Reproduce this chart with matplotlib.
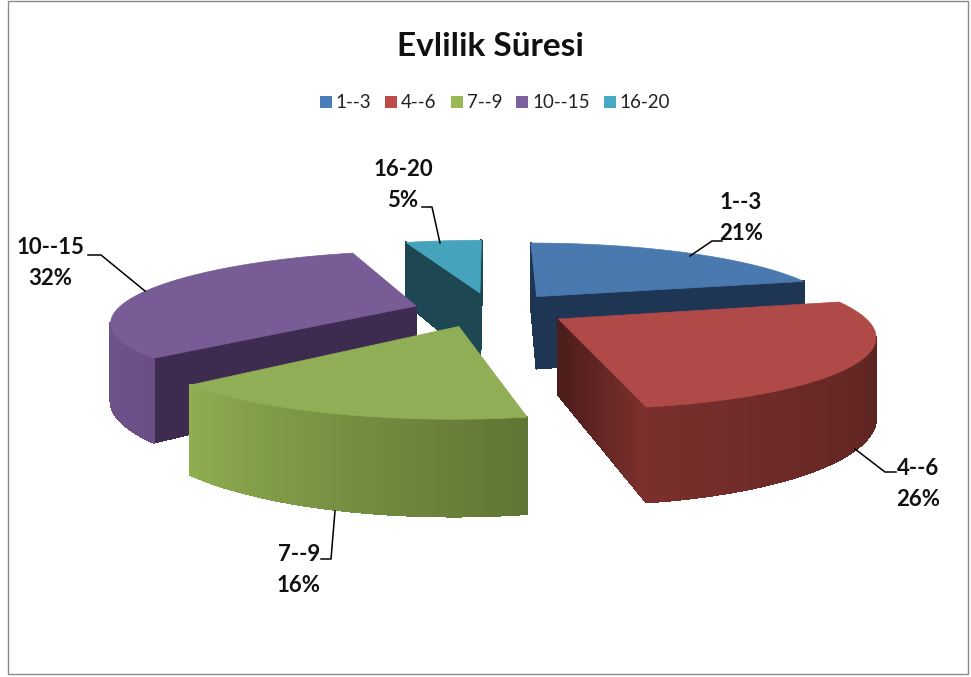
import numpy as np
import matplotlib
matplotlib.use("Agg")
import matplotlib.pyplot as plt
from matplotlib.collections import PolyCollection
from matplotlib.colors import to_rgb
from matplotlib.patches import Patch, Rectangle

plt.rcParams['font.family'] = ['Lato', 'DejaVu Sans']

categories = ["1--3", "4--6", "7--9", "10--15", "16-20"]
percents = [21, 26, 16, 32, 5]
explode = [0.20, 0.24, 0.20, 0.30, 0.20]
# hand placement of each slice after the explode, in pixels
nudge = [(4, -5), (-1, -2), (-19, 1), (5, -1), (-8, -6)]

legend_colors = ["#4a7ebb", "#be4b48", "#98b954", "#7d60a0", "#46aac5"]
top_colors = ["#4a79b0", "#b04a48", "#90ae55", "#775c95", "#46a3bc"]
face_colors = [("#1f3554", "#1f3554"), ("#4a1c1a", "#7d302d"), ("#5f7535", "#5f7535"),
               ("#3e2c50", "#3e2c50"), ("#1d4752", "#1d4752")]
arc_colors = [("#1f3554", "#1f3554"), ("#4b1e1b", "#7a2f2c"), ("#5f7535", "#8fae50"),
              ("#6a4f86", "#7a5b96"), ("#2f7f95", "#2f7f95")]

label_pos = [(741, 218), (918, 484), (299, 570), (50, 263), (403, 185)]
leaders = [[(722, 241), (712, 241), (690, 256)],
           [(896, 472), (885, 472), (855, 449)],
           [(321, 559), (331, 559), (335, 511)],
           [(88, 255), (101, 255), (145, 291)],
           [(422, 207), (432, 207), (440, 243)]]

# projection of the pie plane onto the picture
CX, CY = 497, 312
RX, RY = 300, 68
PERSP = 0.2
HEIGHT = 74


def project(u, v):
    s = 1 / (1 + PERSP * v)
    return CX + RX * u * s, CY - RY * v * s, s


def wedge(a0, a1, off, shift):
    mid = np.radians((a0 + a1) / 2)
    ox, oy = off * np.sin(mid), off * np.cos(mid)
    th = np.radians(np.linspace(a0, a1, 120))
    x, y, s = project(ox + np.sin(th), oy + np.cos(th))
    ax_, ay_, as_ = project(ox, oy)
    return (ax_ + shift[0], ay_ + shift[1], as_), x + shift[0], y + shift[1], s


def blend(c0, c1, t):
    c0, c1 = np.array(to_rgb(c0)), np.array(to_rgb(c1))
    return c0 + (c1 - c0) * t


def strip(ax, xa, ya, sa, xb, yb, sb, c0, c1):
    # gradient band hanging down from the top edge
    n = 40
    tt = np.linspace(0, 1, n + 1)
    px, py, ps = xa + (xb - xa) * tt, ya + (yb - ya) * tt, sa + (sb - sa) * tt
    polys = [[(px[i], py[i]), (px[i + 1], py[i + 1]),
              (px[i + 1], py[i + 1] + HEIGHT * ps[i + 1]), (px[i], py[i] + HEIGHT * ps[i])]
             for i in range(n)]
    cols = [blend(c0, c1, (i + .5) / n) for i in range(n)]
    ax.add_collection(PolyCollection(polys, facecolors=cols, edgecolors=cols, linewidths=1, antialiaseds=False))


fig = plt.figure(figsize=(9.71, 6.77), dpi=100)
ax = fig.add_axes([0, 0, 1, 1])
ax.set_xlim(0, 971)
ax.set_ylim(677, 0)
ax.axis("off")
ax.add_patch(Rectangle((8, 1), 960, 673, fill=False, ec="#8a8a8a", lw=1))

ax.text(490, 47, "Evlilik Süresi", ha="center", va="center", fontsize=24, fontweight="bold", color="#111111")

shares = np.array(percents) / sum(percents) * 360
ends = np.cumsum(shares)
starts = ends - shares

for i in [4, 0, 3, 1, 2]:
    (ax_, ay_, as_), x, y, s = wedge(starts[i], ends[i], explode[i], nudge[i])
    cx_, cy_ = (ax_ + x.mean()) / 2, (ay_ + y.mean()) / 2
    # radial faces that look downward are visible
    for k in [0, -1]:
        dx, dy = x[k] - ax_, y[k] - ay_
        side = dx * (cy_ - ay_) - dy * (cx_ - ax_)
        if side * dx < 0:
            strip(ax, ax_, ay_, as_, x[k], y[k], s[k], face_colors[i][0], face_colors[i][1])
    # outer rim, only the part facing the viewer
    polys, cols = [], []
    for j in range(len(x) - 1):
        if x[j + 1] < x[j]:
            polys.append([(x[j], y[j]), (x[j + 1], y[j + 1]),
                          (x[j + 1], y[j + 1] + HEIGHT * s[j + 1]), (x[j], y[j] + HEIGHT * s[j])])
            cols.append(blend(arc_colors[i][0], arc_colors[i][1], j / (len(x) - 1)))
    if polys:
        ax.add_collection(PolyCollection(polys, facecolors=cols, edgecolors=cols, linewidths=1, antialiaseds=False))
    ax.fill(np.r_[ax_, x], np.r_[ay_, y], color=top_colors[i], lw=.5)

for i, cat in enumerate(categories):
    ax.text(label_pos[i][0], label_pos[i][1], f"{cat}\n{percents[i]}%", ha="center", va="center",
            fontsize=16, fontweight="bold", color="#111111", linespacing=1.55)
    ax.plot(*zip(*leaders[i]), color="black", lw=1.1)

handles = [Patch(facecolor=c, edgecolor="none") for c in legend_colors]
ax.legend(handles, categories, loc="center", bbox_to_anchor=(495 / 971, 1 - 103 / 677), ncol=5, frameon=False,
          fontsize=13.5, handlelength=.65, handleheight=.65, handletextpad=.2, columnspacing=.75,
          labelcolor="#222222")

fig.savefig("out.png", dpi=100)
